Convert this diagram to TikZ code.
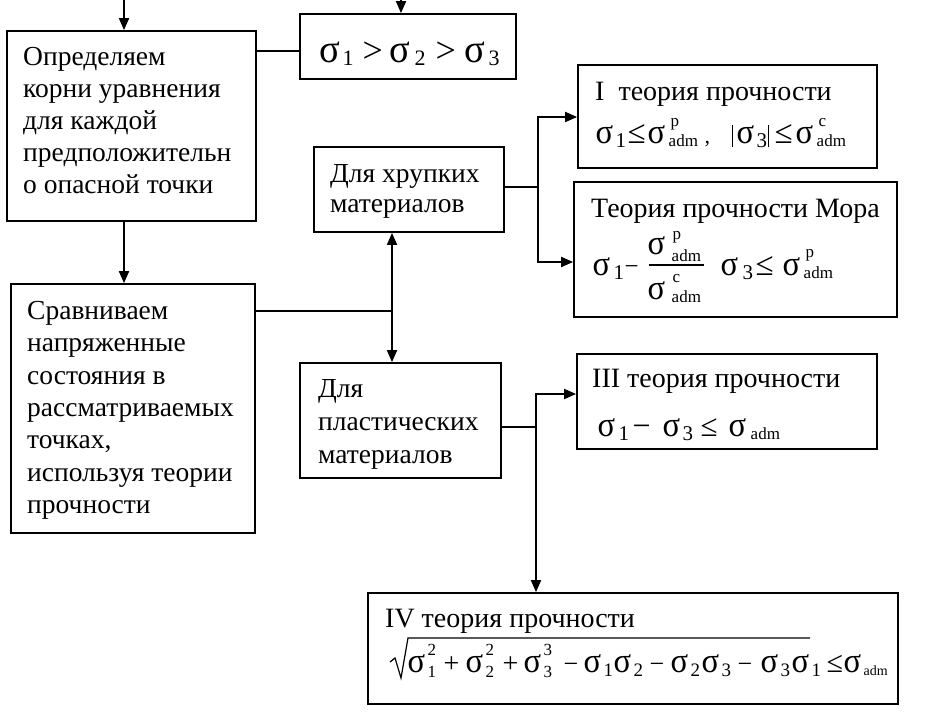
\documentclass[tikz,border=0pt]{standalone}
\usepackage{fontspec}
\usepackage{graphicx}
\setmainfont{Liberation Serif}
\usetikzlibrary{arrows.meta}
\newcommand{\at}[2]{\rlap{\hspace*{#1pt}#2}}
\newcommand{\sg}{\scalebox{0.93}[1]{\fontsize{35}{35}\selectfont σ}}
\newcommand{\sgb}{\scalebox{0.96}[1]{\fontsize{40}{40}\selectfont σ}}
\newcommand{\lo}[1]{\raisebox{-4pt}{\fontsize{21}{21}\selectfont #1}}
\newcommand{\los}[1]{\raisebox{-4pt}{\fontsize{19}{19}\selectfont #1}}
\newcommand{\lob}[1]{\raisebox{-3pt}{\fontsize{22}{22}\selectfont #1}}
\newcommand{\up}[1]{\raisebox{17pt}{\fontsize{17}{17}\selectfont #1}}
\newcommand{\dn}[1]{\raisebox{-5pt}{\fontsize{17}{17}\selectfont #1}}
\newcommand{\adm}{\raisebox{-3pt}{\fontsize{17}{17}\selectfont adm}}
\newcommand{\adms}{\raisebox{-3pt}{\fontsize{14}{14}\selectfont adm}}
\newcommand{\pp}[1]{\raisebox{17pt}{\fontsize{17}{17}\selectfont #1}}
\newcommand{\op}[2]{{\fontsize{#1}{#1}\selectfont #2}}
\begin{document}
\begin{tikzpicture}[x=1pt,y=-1pt,
  box/.style={draw, line width=1.8pt, inner sep=0pt},
  txt/.style={inner sep=0pt, anchor=north west, align=left, font=\fontsize{27.5}{32}\selectfont},
  tl/.style={inner sep=0pt, anchor=base west, font=\fontsize{28}{32}\selectfont},
  ln/.style={line width=1.8pt},
  arr/.style={line width=1.8pt, -{Triangle[length=12pt,width=10pt]}},
  arrb/.style={line width=1.8pt, {Triangle[length=12pt,width=10pt]}-{Triangle[length=12pt,width=10pt]}}]
\useasboundingbox (0,0) rectangle (928,712);
% boxes
\node[box, minimum width=249pt, minimum height=190pt] (A) at (131.5,126) {};
\node[box, minimum width=216pt, minimum height=65pt] (sig) at (408,46.5) {};
\node[box, minimum width=190pt, minimum height=85pt] (hr) at (409,189.5) {};
\node[box, minimum width=299pt, minimum height=103pt] (I) at (727.5,116.5) {};
\node[box, minimum width=323pt, minimum height=135pt] (Mora) at (735.5,249.5) {};
\node[box, minimum width=244pt, minimum height=249pt] (B) at (133,408.5) {};
\node[box, minimum width=201pt, minimum height=115pt] (pl) at (400.5,420.5) {};
\node[box, minimum width=300pt, minimum height=95pt] (III) at (727,401.5) {};
\node[box, minimum width=530pt, minimum height=111pt] (IV) at (633,648.5) {};
% block texts
\node[txt] (tA) at (23,44) {\rule{0pt}{21pt}Определяем\\корни уравнения\\для каждой\\предположительн\\о опасной точки};
\node[txt, font=\fontsize{27.5}{32.4}\selectfont] (tB) at (27,298) {\rule{0pt}{21pt}Сравниваем\\напряженные\\состояния в\\рассматриваемых\\точках,\\используя теории\\прочности};
\node[txt, font=\fontsize{27.5}{30}\selectfont] (tH) at (330,161) {\rule{0pt}{21pt}Для хрупких\\материалов};
\node[txt, font=\fontsize{27.5}{33}\selectfont] (tP) at (318,376) {\rule{0pt}{21pt}Для\\пластических\\материалов};
% sigma ordering
\node[tl] (tsig) at (319,62) {\at{0}{\sgb}\at{23}{\lob{1}}\at{43}{\op{36}{>}}\at{70}{\sgb}\at{95}{\lob{2}}\at{116}{\op{36}{>}}\at{145}{\sgb}\at{169}{\lob{3}}};
% I theory
\node[tl] (tI1) at (595,100) {I\hspace{14pt}теория прочности};
\node[tl] (tI2) at (595,143) {\at{0}{\sg}\at{20}{\lo{1}}\at{32}{\op{33}{≤}}\at{52}{\sg}\at{75}{\pp{p}}\at{73}{\adm}\at{109}{\op{22}{,}}\at{136}{\rule[-4pt]{1.3pt}{22pt}}\at{141}{\sg}\at{161}{\lo{3}}\at{172}{\rule[-4pt]{1.3pt}{22pt}}\at{179}{\op{33}{≤}}\at{200}{\sg}\at{223}{\pp{c}}\at{221}{\adm}};
% Mohr theory
\node[tl] (tM1) at (591,217) {Теория прочности Мора};
\node[tl] (tM2) at (592,275) {\at{0}{\sg}\at{21}{\lo{1}}\at{32}{\raisebox{1pt}{\op{25}{−}}}\at{56}{\rule[9.3pt]{55pt}{1.3pt}}\at{55}{\raisebox{21pt}{\sg}}\at{80}{\raisebox{36pt}{\fontsize{17}{17}\selectfont p}}\at{79}{\raisebox{14pt}{\fontsize{17}{17}\selectfont adm}}\at{55}{\raisebox{-24pt}{\sg}}\at{80}{\raisebox{-7pt}{\fontsize{17}{17}\selectfont c}}\at{79}{\raisebox{-27pt}{\fontsize{17}{17}\selectfont adm}}\at{128}{\sg}\at{150}{\lo{3}}\at{163}{\op{33}{≤}}\at{190}{\sg}\at{213}{\raisebox{18pt}{\fontsize{17}{17}\selectfont p}}\at{211}{\adm}};
% III theory
\node[tl] (tIII1) at (592,387) {III теория прочности};
\node[tl] (tIII2) at (597,436) {\at{0}{\sg}\at{21}{\lo{1}}\at{35}{\op{32}{−}}\at{65}{\sg}\at{85}{\lo{3}}\at{103}{\op{31}{≤}}\at{131}{\sg}\at{153}{\adm}};
% IV theory
\node[tl] (tIV1) at (385,627) {IV теория прочности};
\node[tl] (tIV2) at (390,672) {\at{17}{\sg}\at{37}{\up{2}}\at{37}{\dn{1}}\at{53}{\op{28}{+}}\at{75}{\sg}\at{95}{\up{2}}\at{95}{\dn{2}}\at{112}{\op{28}{+}}\at{133}{\sg}\at{153}{\up{3}}\at{153}{\dn{3}}\at{173}{\op{26}{−}}\at{193}{\sg}\at{213}{\los{1}}\at{223}{\sg}\at{243}{\los{2}}\at{259}{\op{26}{−}}\at{280}{\sg}\at{300}{\los{2}}\at{311}{\sg}\at{331}{\los{3}}\at{347}{\op{26}{−}}\at{370}{\sg}\at{390}{\los{3}}\at{401}{\sg}\at{421}{\los{1}}\at{436}{\op{30}{≤}}\at{453}{\sg}\at{473}{\adms}};
% radical sign of the IV formula
\draw[line width=1.2pt, line join=miter]
  ([shift={(0,-10)}]tIV2.base west) -- ([shift={(5,-14)}]tIV2.base west)
  -- ([shift={(11,6)}]tIV2.base west) -- ([shift={(18,-34)}]tIV2.base west)
  -- ([shift={(420,-34)}]tIV2.base west);
% connectors
\coordinate (top1) at (124,0);
\coordinate (top2) at (401,0);
\draw[arr] (top1) -- (top1 |- A.north);
\draw[arr] (top2) -- (top2 |- sig.north);
\coordinate (c1) at (300,51);
\draw[ln] (A.east |- c1) -- (c1);
\draw[arr] (top1 |- A.south) -- (top1 |- B.north);
\coordinate (j1) at (392,311);
\draw[ln] (B.east |- j1) -- (j1);
\draw[arrb] (j1 |- hr.south) -- (j1 |- pl.north);
\coordinate (j2) at (538,187);
\coordinate (j2a) at (538,117);
\coordinate (j2b) at (538,262);
\draw[ln] (hr.east |- j2) -- (j2);
\draw[arr] (j2b) -- (j2a) -- (j2a -| I.west);
\draw[arr] (j2a) -- (j2b) -- (j2b -| Mora.west);
\coordinate (j3) at (536,427);
\coordinate (j3a) at (536,394);
\draw[ln] (pl.east |- j3) -- (j3);
\draw[arr] (j3) -- (j3a) -- (j3a -| III.west);
\draw[arr] (j3a) -- (j3a |- IV.north);
\end{tikzpicture}
\end{document}
